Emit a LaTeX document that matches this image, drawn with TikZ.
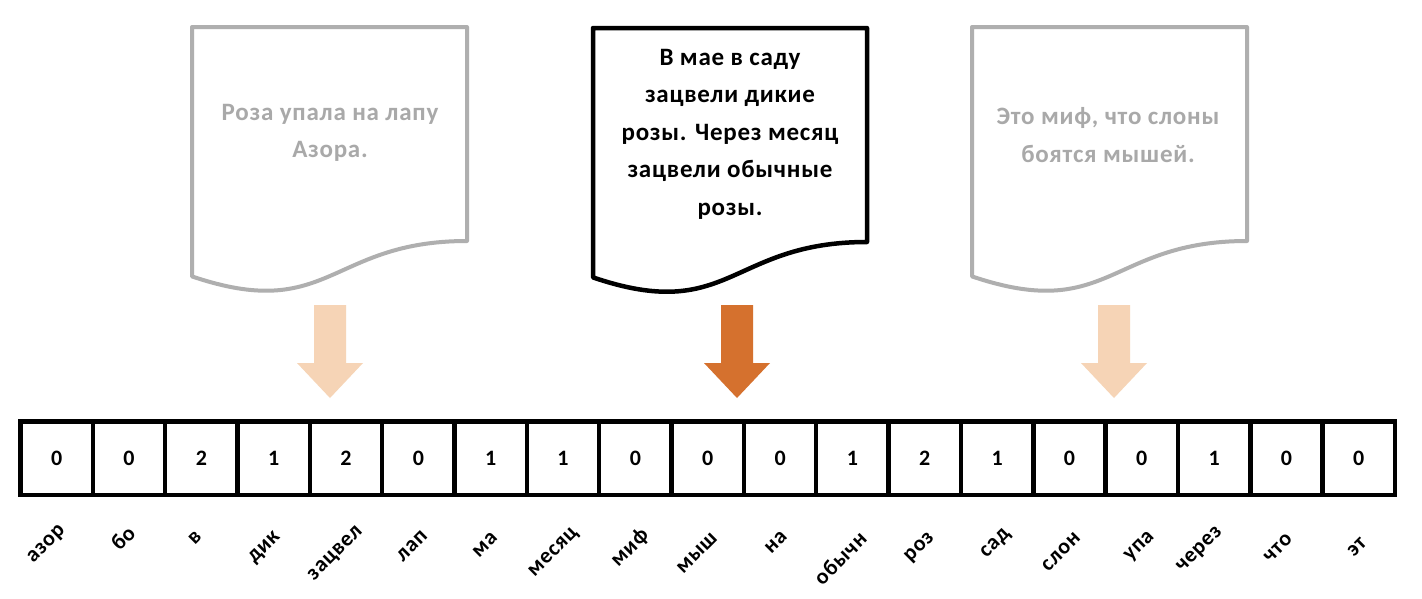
\documentclass[tikz,border=0pt]{standalone}
\usepackage{fontspec}
\setmainfont{Carlito}
\newfontfamily\widefont[LetterSpace=3]{Carlito}
\definecolor{docgrey}{HTML}{AFAFAF}
\definecolor{txtgrey}{HTML}{A9A9A9}
\definecolor{lightor}{HTML}{F6D4B6}
\definecolor{darkor}{HTML}{D5712E}
\newcommand\docoutline[4]{\draw[#4] (#1,#2) -- ({#1+#3},#2) -- ({#1+#3},{#2+214}) .. controls ({#1+#3/2},{#2+214}) and ({#1+#3/2},{#2+296}) .. (#1,{#2+249.4}) -- cycle;}
\newcommand\blockarrow[3]{\fill[#3] ({#1-16},#2) -- ({#1+16},#2) -- ({#1+16},{#2+58}) -- ({#1+33},{#2+58}) -- (#1,{#2+93}) -- ({#1-33},{#2+58}) -- ({#1-16},{#2+58}) -- cycle;}
\begin{document}
\begin{tikzpicture}[x=1pt,y=-1pt,
  greydoc/.style={draw=docgrey,line width=4,line join=round,fill=white},
  blackdoc/.style={draw=black,line width=4.5,line join=round,fill=white},
  doctext/.style={align=center,font=\widefont\bfseries\fontsize{25}{37.5}\selectfont},
  cell/.style={draw=black,line width=4.5,minimum width=72.34pt,minimum height=73.5pt,inner sep=0pt,outer sep=0pt,font=\widefont\bfseries\fontsize{22}{22}\selectfont},
  wlabel/.style={rotate=45,inner sep=0pt,font=\widefont\bfseries\fontsize{22}{22}\selectfont}]
\fill[white] (0,0) rectangle (1422,598);
\useasboundingbox (0,0) rectangle (1422,598);
% documents
\docoutline{192}{27}{275}{greydoc}
\docoutline{593}{28}{274}{blackdoc}
\docoutline{972}{27}{275}{greydoc}
\node[doctext,text=txtgrey] (d1) at (330,133) {Роза упала на лапу\\Азора.};
\node[doctext] (d2) at (730,134) {В мае в саду\\зацвели дикие\\розы. Через месяц\\зацвели обычные\\розы.};
\node[doctext,text=txtgrey] (d3) at (1108,135) {Это миф, что слоны\\боятся мышей.};
% arrows
\blockarrow{330}{305}{lightor}
\blockarrow{737}{305}{darkor}
\blockarrow{1114}{305}{lightor}
% cells
\foreach \v [count=\i from 0] in {0,0,2,1,2,0,1,1,0,0,0,1,2,1,0,0,1,0,0}
  \node[cell] (c\i) at ({20.5+72.34*(\i+0.5)},458) {\v};
% labels
\foreach \w/\x/\y [count=\i from 0] in {азор/47/545,бо/123/538,в/195/538,дик/265/548,зацвел/336/554,лап/412/546,ма/485/545,месяц/554/553,миф/630/548,мыш/697/553,на/776/542,обычн/840/558,роз/920/548,сад/996/544,слон/1061/552,упа/1140/547,через/1200/550,что/1278/548,эт/1357/547}
  \node[wlabel] (l\i) at (\x,\y) {\w};
\end{tikzpicture}
\end{document}
